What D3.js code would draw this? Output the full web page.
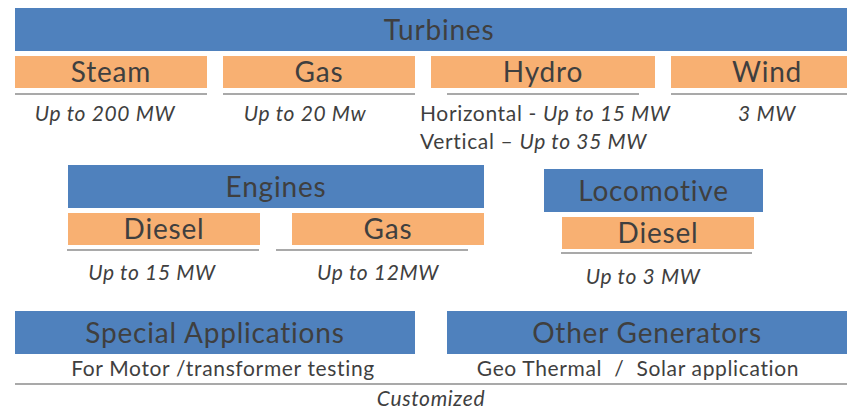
<!DOCTYPE html>
<meta charset="utf-8">
<style>
body { margin: 0; background: #fff; }
svg text { font-family: Lato, "Noto Sans", sans-serif; fill: #3f3f3f; white-space: pre; }
.title { font-size: 28px; letter-spacing: 0.8px; }
.small { font-size: 21px; letter-spacing: 0.65px; }
.rating { font-style: italic; }
</style>
<body>
<script src="https://cdn.jsdelivr.net/npm/d3@7"></script>
<script>

// ---- data ----
var groupNames = ["Turbines", "Engines", "Locomotive", "Special Applications", "Other Generators"];
var turbineTypes = ["Steam", "Gas", "Hydro", "Wind"];
var turbineRatings = ["Up to 200 MW", "Up to 20 Mw", "", "3 MW"];
var hydroKinds = ["Horizontal - ", "Vertical \u2013 "];
var hydroRatings = ["Up to 15 MW", "Up to 35 MW"];
var engineTypes = ["Diesel", "Gas"];
var engineRatings = ["Up to 15 MW", "Up to 12MW"];
var locoTypes = ["Diesel"];
var locoRatings = ["Up to 3 MW"];
var otherNotes = ["For Motor /transformer testing", "Geo Thermal  /  Solar application"];
var footNote = ["Customized"];

// ---- layout ----
var width = 847, height = 411;
var blue = "#4f81bd", orange = "#f8b072", rule = "#a9a9a9";

var svg = d3.select("body").append("svg")
    .attr("width", width)
    .attr("height", height);

// x position of each box: [left, right]
var turbineX = [[15, 207], [223, 415], [431, 655], [671, 863]];
var turbineLine = [[15, 207], [223, 415], [447, 639], [671, 863]];
var turbineTextX = [105, 305, null, 767];
var engineX = [[68, 260], [292, 484]];
var engineLine = [[67, 259], [276, 468]];
var engineTextX = [152, 378];

function box(x0, x1, y0, y1, fill, label) {
  svg.append("rect")
      .attr("x", x0).attr("y", y0)
      .attr("width", x1 - x0).attr("height", y1 - y0)
      .attr("fill", fill);
  svg.append("text")
      .attr("class", "title")
      .attr("x", (x0 + x1) / 2)
      .attr("y", (y0 + y1) / 2)
      .attr("dy", "0.36em")
      .attr("text-anchor", "middle")
      .text(label);
}

function hline(x0, x1, y, w) {
  svg.append("line")
      .attr("x1", x0).attr("x2", x1)
      .attr("y1", y).attr("y2", y)
      .attr("stroke", rule)
      .attr("stroke-width", w || 2);
}

function note(x, y, str, cls) {
  svg.append("text")
      .attr("class", "small " + cls)
      .attr("x", x).attr("y", y)
      .attr("dy", "0.36em")
      .attr("text-anchor", "middle")
      .text(str);
}

// Turbines
box(15, 863, 8, 51, blue, groupNames[0]);
turbineTypes.forEach(function(t, i) {
  box(turbineX[i][0], turbineX[i][1], 56, 88, orange, t);
  hline(turbineLine[i][0], turbineLine[i][1], 94);
  if (turbineRatings[i]) note(turbineTextX[i], 113, turbineRatings[i], "rating");
});
hydroKinds.forEach(function(k, i) {
  var t = svg.append("text")
      .attr("class", "small")
      .attr("x", 420).attr("y", 113 + i * 28)
      .attr("dy", "0.36em");
  t.append("tspan").text(k);
  t.append("tspan").attr("class", "rating").text(hydroRatings[i]);
});

// Engines
box(68, 484, 165, 208, blue, groupNames[1]);
engineTypes.forEach(function(t, i) {
  box(engineX[i][0], engineX[i][1], 213, 245, orange, t);
  hline(engineLine[i][0], engineLine[i][1], 250);
  note(engineTextX[i], 272, engineRatings[i], "rating");
});

// Locomotive
box(544, 763, 169, 212, blue, groupNames[2]);
locoTypes.forEach(function(t, i) {
  box(562, 754, 217, 249, orange, t);
  hline(561, 752, 253);
  note(643, 276, locoRatings[i], "rating");
});

// Special applications / other generators
box(15, 415, 311, 354, blue, groupNames[3]);
box(447, 847, 311, 354, blue, groupNames[4]);
note(223, 368, otherNotes[0], "");
note(638, 368, otherNotes[1], "");
hline(15, 847, 384);
note(431, 398, footNote[0], "rating");

</script>
</body>
